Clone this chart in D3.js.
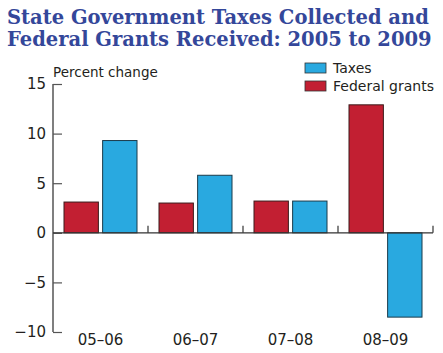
<!DOCTYPE html>
<html>
<head>
<meta charset="utf-8">
<script src="https://cdn.jsdelivr.net/npm/d3@7"></script>
<style>
  body { margin: 0; background: #fff; }
  svg { display: block; }
</style>
</head>
<body>
<svg width="443" height="353"></svg>
<script>
const categories = ['05–06', '06–07', '07–08', '08–09']
const federalGrants = [3.1, 3.0, 3.2, 12.9]
const taxes = [9.3, 5.8, 3.2, -8.5]
const yTicks = [15, 10, 5, 0, -5, -10]

const svg = d3.select('svg')
const margin = { top: 84, right: 10, bottom: 21, left: 53 }
const width = 443
const height = 353
const innerWidth = width - margin.left - margin.right
const innerHeight = height - margin.top - margin.bottom

const textColor = '#231f20'
const fedColor = '#c21f32'
const taxColor = '#29a9e0'

// title
const title = svg.append('text')
  .attr('font-family', 'DejaVu Serif')
  .attr('font-weight', 'bold')
  .attr('font-size', 19.5)
  .attr('fill', '#34479a')
title.append('tspan').attr('x', 7).attr('y', 24).text('State Government Taxes Collected and')
title.append('tspan').attr('x', 7).attr('y', 46).text('Federal Grants Received: 2005 to 2009')

const g = svg.append('g')
  .attr('transform', `translate(${margin.left}, ${margin.top})`)

const yScale = d3.scaleLinear()
  .domain([-10, 15])
  .range([innerHeight, 0])

const xScale = d3.scaleBand()
  .domain(categories)
  .range([0, innerWidth])

const xInner = d3.scaleBand()
  .domain(['fed', 'tax'])
  .range([11, xScale.bandwidth() - 11])
  .paddingInner(0.11)

// y axis, ticks point inward
const yAxis = d3.axisLeft(yScale)
  .tickValues(yTicks)
  .tickSize(-9)
  .tickPadding(7)
  .tickFormat(d => d < 0 ? '\u2212' + Math.abs(d) : d)

const yAxisG = g.append('g').call(yAxis)
yAxisG.select('.domain').attr('stroke', '#555').attr('stroke-width', 1.5)
  .attr('d', `M0,${yScale(15)}V${yScale(-10)}`)
yAxisG.selectAll('.tick line').attr('stroke', '#555').attr('stroke-width', 1.2)
yAxisG.selectAll('.tick text')
  .attr('font-family', 'DejaVu Sans')
  .attr('font-size', 15)
  .attr('fill', textColor)

svg.append('text')
  .attr('x', 53)
  .attr('y', 77)
  .attr('font-family', 'DejaVu Sans')
  .attr('font-size', 13.5)
  .attr('fill', textColor)
  .text('Percent change')

// bars
const groups = g.selectAll('.grp').data(categories)
  .enter().append('g')
  .attr('transform', d => `translate(${xScale(d)}, 0)`)

groups.append('rect')
  .attr('x', xInner('fed'))
  .attr('width', xInner.bandwidth())
  .attr('y', (d, i) => yScale(Math.max(0, federalGrants[i])))
  .attr('height', (d, i) => Math.abs(yScale(federalGrants[i]) - yScale(0)))
  .attr('fill', fedColor)
  .attr('stroke', '#3a1a1a')
  .attr('stroke-width', 1)

groups.append('rect')
  .attr('x', xInner('tax'))
  .attr('width', xInner.bandwidth())
  .attr('y', (d, i) => yScale(Math.max(0, taxes[i])))
  .attr('height', (d, i) => Math.abs(yScale(taxes[i]) - yScale(0)))
  .attr('fill', taxColor)
  .attr('stroke', '#1b3a4a')
  .attr('stroke-width', 1)

// x axis at zero
const xAxisG = g.append('g').attr('transform', `translate(0, ${yScale(0)})`)
xAxisG.append('line')
  .attr('x1', 0).attr('x2', innerWidth)
  .attr('stroke', '#333').attr('stroke-width', 1.2)
xAxisG.selectAll('.xt').data(categories)
  .enter().append('line')
  .attr('x1', d => xScale(d) + xScale.bandwidth())
  .attr('x2', d => xScale(d) + xScale.bandwidth())
  .attr('y1', 0).attr('y2', -7)
  .attr('stroke', '#333').attr('stroke-width', 1.2)

g.selectAll('.xl').data(categories)
  .enter().append('text')
  .attr('x', d => xScale(d) + xScale.bandwidth() / 2)
  .attr('y', innerHeight + 13)
  .attr('text-anchor', 'middle')
  .attr('font-family', 'DejaVu Sans')
  .attr('font-size', 15)
  .attr('fill', textColor)
  .text(d => d)

// legend
const legend = svg.append('g').attr('transform', 'translate(305, 63)')
const legendItems = [['Taxes', taxColor], ['Federal grants', fedColor]]
legendItems.forEach(([label, color], i) => {
  legend.append('rect')
    .attr('x', 0).attr('y', i * 18)
    .attr('width', 21).attr('height', 10)
    .attr('fill', color)
    .attr('stroke', '#333').attr('stroke-width', 0.8)
  legend.append('text')
    .attr('x', 28).attr('y', i * 18 + 10)
    .attr('font-family', 'DejaVu Sans')
    .attr('font-size', 14)
    .attr('fill', textColor)
    .text(label)
})
</script>
</body>
</html>
